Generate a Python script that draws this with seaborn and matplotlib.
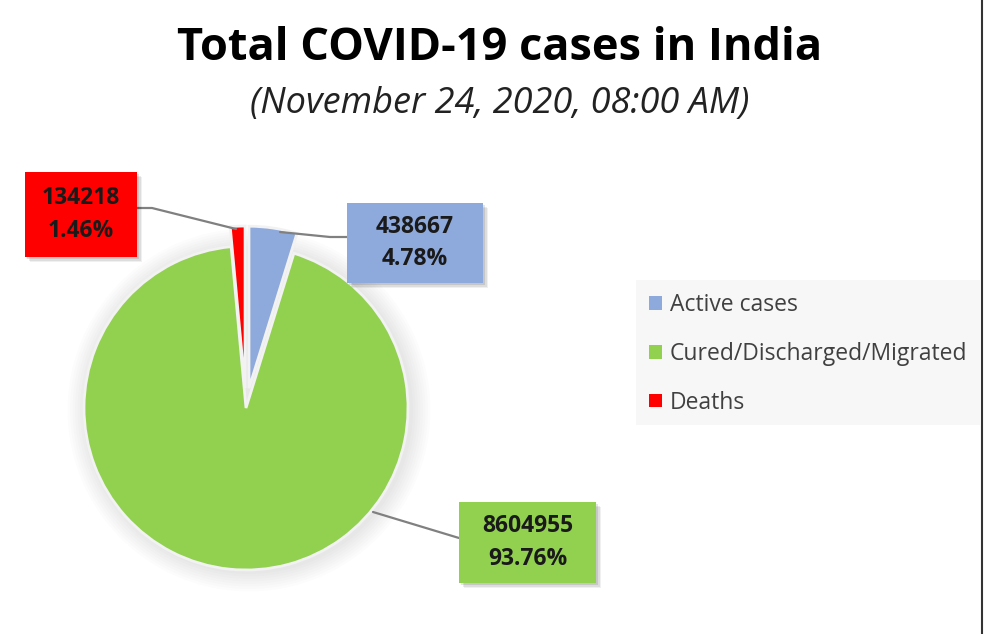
import matplotlib
matplotlib.use("Agg")
import matplotlib.pyplot as plt
import seaborn as sns
from matplotlib.patches import Rectangle, Circle

categories = ["Active cases", "Cured/Discharged/Migrated", "Deaths"]
counts = [438667, 8604955, 134218]
percents = ["4.78%", "93.76%", "1.46%"]
colors = ["#8EA9DB", "#92D050", "#FF0000"]

sns.set_theme(style="white")
plt.rcParams['font.family'] = ['Open Sans', 'DejaVu Sans']

W, H = 985, 634
fig = plt.figure(figsize=(W / 100, H / 100), dpi=100)
fig.patch.set_facecolor("white")
ax = fig.add_axes([0, 0, 1, 1])

def Y(y):
    return H - y

cx, cy, R = 246, Y(408), 162

# soft shadow behind the pie
for k in range(8):
    ax.add_patch(Circle((cx + 3, cy - 2), R + 2 + k * 2.5, facecolor="black",
                        alpha=0.012, lw=0, zorder=0.5))

wedges, _ = ax.pie(counts, colors=colors, startangle=90, counterclock=False,
                   explode=[20, 0, 20], center=(cx, cy), radius=R,
                   wedgeprops=dict(linewidth=2, edgecolor="#f2f2f2"), frame=True)
ax.set_xlim(0, W)
ax.set_ylim(0, H)
ax.set_aspect("equal")
ax.axis("off")

# Title
fig.text(500 / W, 1 - 48 / H, "Total COVID-19 cases in India", ha="center", va="center",
         fontsize=32.5, fontweight="bold", color="black")
fig.text(500 / W, 1 - 104 / H, "(November 24, 2020, 08:00 AM)", ha="center", va="center",
         fontsize=26, fontstyle="italic", color="#222222")

# leader lines
line_kw = dict(color="#808080", lw=1.6, zorder=1)
ax.plot([137, 152, 236], [Y(208), Y(208), Y(229)], **line_kw)
ax.plot([280, 330, 347], [Y(232), Y(237), Y(237)], **line_kw)
ax.plot([373, 459], [Y(512), Y(538)], **line_kw)

# label boxes (x0, y0, x1, y1 in image px)
boxes = [(347, 203, 483, 283), (459, 502, 596, 583), (25, 172, 137, 257)]
for i, (x0, y0, x1, y1) in enumerate(boxes):
    for k, a in enumerate([0.10, 0.08, 0.06]):
        off = 2 + k * 1.5
        ax.add_patch(Rectangle((x0 + off, Y(y1) - off), x1 - x0, y1 - y0,
                               facecolor="black", alpha=a, lw=0, zorder=2))
    ax.add_patch(Rectangle((x0, Y(y1)), x1 - x0, y1 - y0, facecolor=colors[i],
                           lw=0, zorder=3))
    ax.text((x0 + x1) / 2, (Y(y0) + Y(y1)) / 2, f"{counts[i]}\n{percents[i]}",
            ha="center", va="center", fontsize=16.5, fontweight="bold",
            color="#1a1a1a", linespacing=1.45, zorder=4)

# legend background
ax.add_patch(Rectangle((636, Y(425)), 980 - 636, 425 - 280, facecolor="#f7f7f7",
                       lw=0, zorder=0))
leg = ax.legend(wedges, categories, loc="upper left",
                bbox_to_anchor=(633 / W, 1 - 277 / H), bbox_transform=fig.transFigure,
                frameon=False, fontsize=16.5, labelspacing=1.08,
                handlelength=0.55, handleheight=0.55, handletextpad=0.35,
                borderpad=0.2)
for t in leg.get_texts():
    t.set_color("#404040")
for h in leg.legend_handles:
    h.set_linewidth(0)

# right border line
fig.add_artist(plt.Line2D([982 / W, 982 / W], [0, 1], color="#333333", lw=1.5))

fig.savefig("out.png", dpi=100, facecolor="white")
